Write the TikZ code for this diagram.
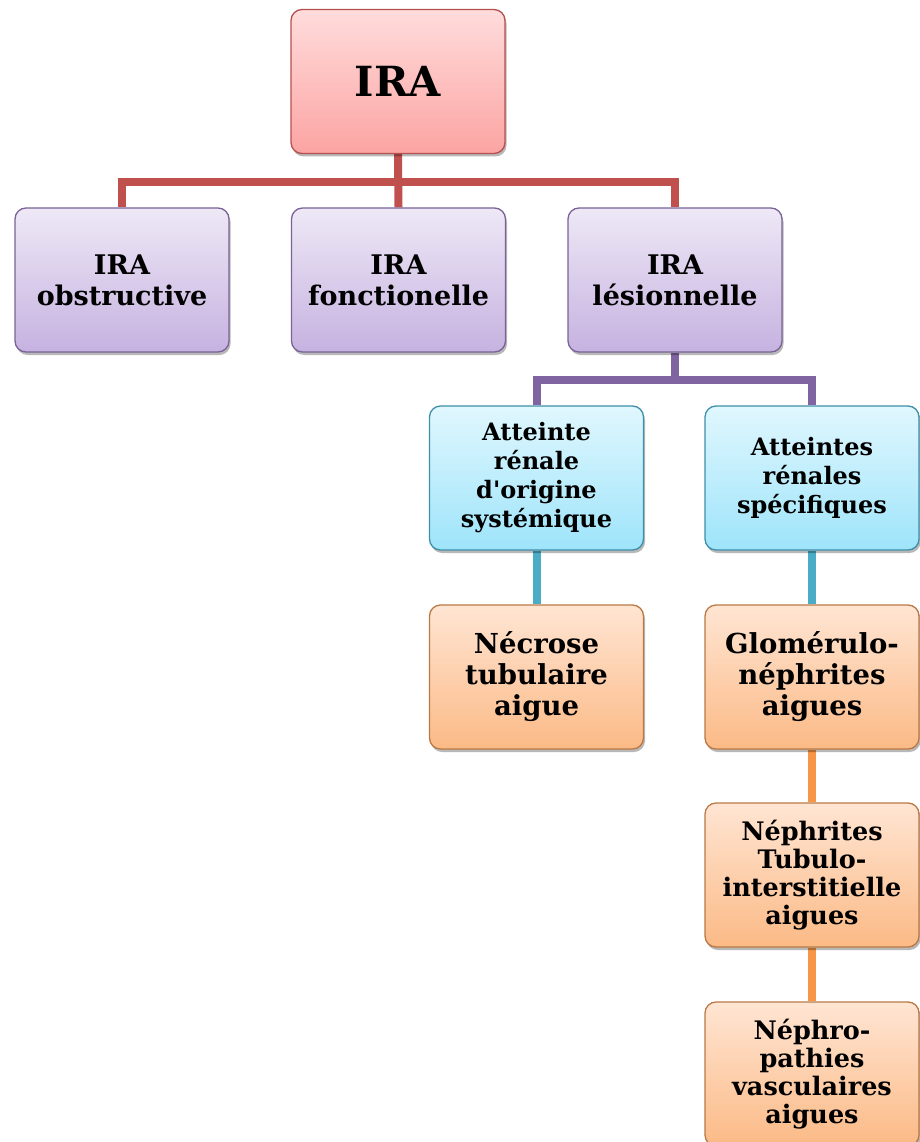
\documentclass[tikz,border=0pt]{standalone}
\usepackage{fontspec}
\setmainfont{DejaVu Serif}
\usetikzlibrary{shadows,backgrounds}
\definecolor{redB}{HTML}{B6504E}
\definecolor{redT}{HTML}{FFDCDC}
\definecolor{redM}{HTML}{FBA4A2}
\definecolor{purB}{HTML}{7A6396}
\definecolor{purT}{HTML}{EEE8F6}
\definecolor{purM}{HTML}{C6B2E0}
\definecolor{cyaB}{HTML}{3E8FA8}
\definecolor{cyaT}{HTML}{E0F7FE}
\definecolor{cyaM}{HTML}{9EE4FA}
\definecolor{oraB}{HTML}{B97844}
\definecolor{oraT}{HTML}{FFE5D3}
\definecolor{oraM}{HTML}{FBBA86}
\definecolor{redL}{HTML}{C0504D}
\definecolor{purL}{HTML}{8064A2}
\definecolor{cyaL}{HTML}{4BACC6}
\definecolor{oraL}{HTML}{F79646}
\tikzset{
  box/.style={rounded corners=11pt, minimum width=214pt, minimum height=144pt,
    inner sep=0pt, align=center, line width=1.3pt,
    drop shadow={shadow xshift=1.5pt, shadow yshift=-3pt, opacity=0.28, fill=black}},
  redbox/.style={box, draw=redB, top color=redT, bottom color=redM,
    font={\fontsize{41.5}{48}\selectfont\bfseries}},
  purbox/.style={box, draw=purB, top color=purT, bottom color=purM,
    font={\fontsize{27}{31}\selectfont\bfseries}},
  cyabox/.style={box, draw=cyaB, top color=cyaT, bottom color=cyaM,
    font={\fontsize{24}{29}\selectfont\bfseries}},
  orabox/.style={box, draw=oraB, top color=oraT, bottom color=oraM,
    font={\fontsize{27.5}{31}\selectfont\bfseries}},
  orabox2/.style={orabox, font={\fontsize{25.5}{28}\selectfont\bfseries}},
  conn/.style={line width=8pt, line cap=butt},
}
\begin{document}
\begin{tikzpicture}[x=1pt,y=-1pt]
\useasboundingbox (0,0) rectangle (919,1142);
\node[redbox] (ira) at (398,81.5) {IRA};
\node[purbox] (obs) at (122,280) {IRA\\obstructive};
\node[purbox] (fonc) at (398.5,280) {IRA\\fonctionelle};
\node[purbox] (les) at (675,280) {IRA\\lésionnelle};
\node[cyabox] (sys) at (536.5,478) {Atteinte\\rénale\\d\textquotesingle origine\\systémique};
\node[cyabox] (spec) at (812,478) {Atteintes\\rénales\\spécifiques};
\node[orabox] (nec) at (536.5,677) {Nécrose\\tubulaire\\aigue};
\node[orabox] (glom) at (812,677) {Glomérulo-\\néphrites\\aigues};
\node[orabox2] (neph) at (812,875) {Néphrites\\Tubulo-\\interstitielle\\aigues};
\node[orabox2] (vasc) at (812,1074) {Néphro-\\pathies\\vasculaires\\aigues};
\coordinate (bus1) at (0,182);
\coordinate (bus2) at (0,380);
\begin{scope}[on background layer]
\draw[conn, redL] (ira.south) -- (ira.south |- bus1) -| (obs.north);
\draw[conn, redL] (ira.south) -- (fonc.north);
\draw[conn, redL] (ira.south |- bus1) -| (les.north);
\draw[conn, purL] (les.south) -- (les.south |- bus2) -| (sys.north);
\draw[conn, purL] (les.south |- bus2) -| (spec.north);
\draw[conn, cyaL] (sys.south) -- (nec.north);
\draw[conn, cyaL] (spec.south) -- (glom.north);
\draw[conn, oraL] (glom.south) -- (neph.north);
\draw[conn, oraL] (neph.south) -- (vasc.north);
\end{scope}
\end{tikzpicture}
\end{document}
